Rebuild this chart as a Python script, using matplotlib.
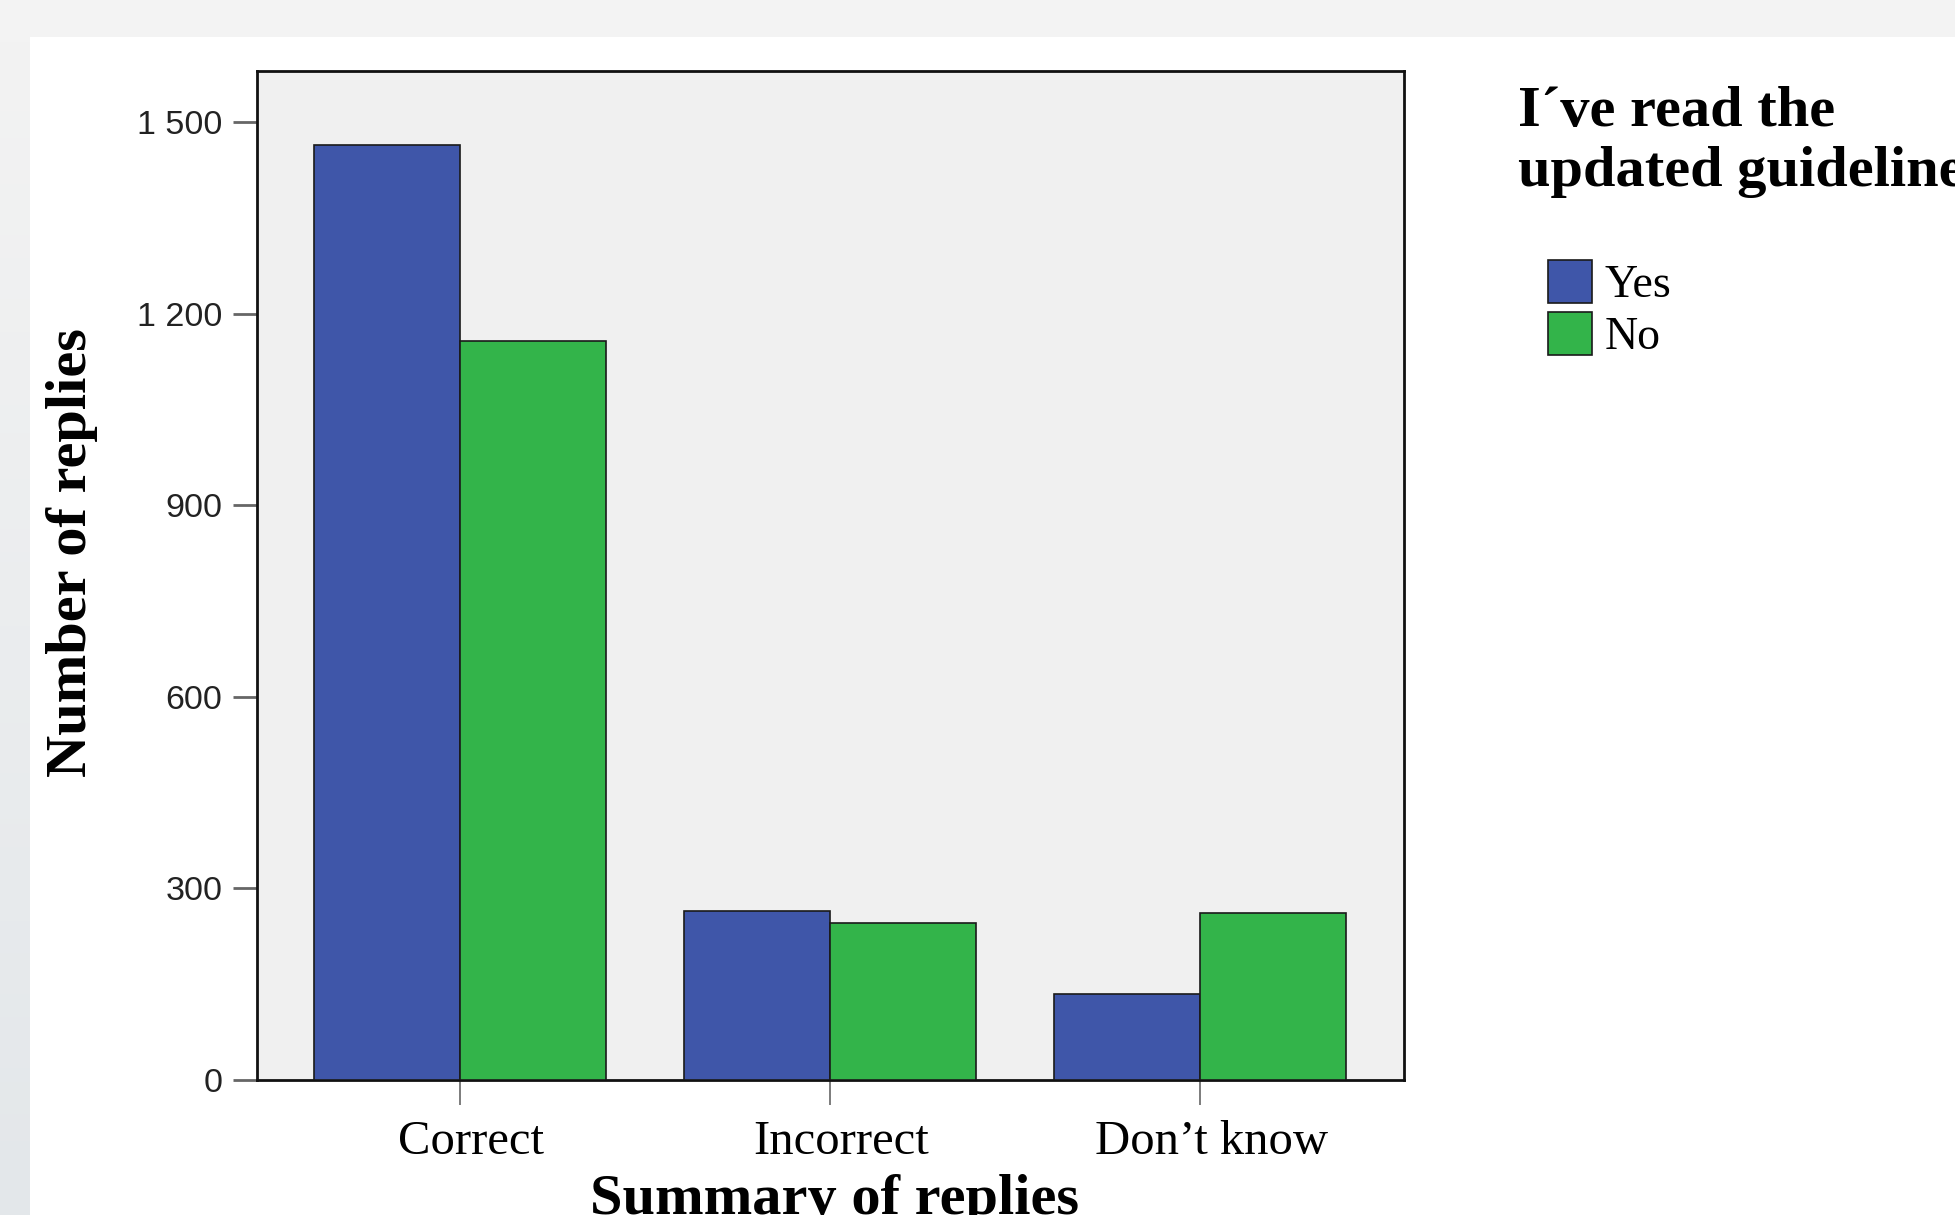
import numpy as np
import matplotlib
matplotlib.use("Agg")
import matplotlib.pyplot as plt
from matplotlib.patches import Rectangle
from matplotlib.colors import LinearSegmentedColormap

# ---- data ----
categories = ["Correct", "Incorrect", "Don\u2019t know"]
series_names = ["Yes", "No"]
yes_values = [1464, 265, 134]
no_values = [1157, 246, 261]
ytick_values = [0, 300, 600, 900, 1200, 1500]
ytick_labels = ["0", "300", "600", "900", "1\u00a0200", "1\u00a0500"]
legend_title = "I\u00b4ve read the\nupdated guidelines"
xlabel = "Summary of replies"
ylabel = "Number of replies"

W, H = 1955, 1215
fig = plt.figure(figsize=(W / 100, H / 100), dpi=100, facecolor="#f3f3f3")

# background panels
fig.add_artist(Rectangle((30 / W, 0), 1 - 30 / W, 1 - 37 / H, transform=fig.transFigure,
                         facecolor="white", edgecolor="none", zorder=-10))
gax = fig.add_axes([0, 0, 30 / W, 1 - 37 / H], zorder=-9)
grad = np.linspace(0, 1, 256).reshape(-1, 1)
cmap = LinearSegmentedColormap.from_list("g", ["#e3e7ea", "#f3f3f3"])
gax.imshow(grad, aspect="auto", cmap=cmap, origin="lower", extent=[0, 1, 0, 1])
gax.axis("off")

ax = fig.add_axes([257 / W, 135 / H, (1404 - 257) / W, (1080 - 71) / H])
ax.set_facecolor("#f0f0f0")

x = np.arange(len(categories))
w = 0.395
b1 = ax.bar(x - w / 2, yes_values, w, color="#3f56a9", edgecolor="#1a1a1a", linewidth=1.2,
            label=series_names[0], zorder=3)
b2 = ax.bar(x + w / 2, no_values, w, color="#33b44a", edgecolor="#1a1a1a", linewidth=1.2,
            label=series_names[1], zorder=3)

ax.set_xlim(-0.549, 2.551)
ax.set_ylim(0, 1580)

ax.set_yticks(ytick_values)
ax.set_yticklabels(ytick_labels, fontfamily="Liberation Sans", fontsize=24.5, color="#222222")

# major ticks mark the categories; labels sit slightly right on minor ticks
ax.set_xticks(x)
ax.set_xticklabels([])
ax.set_xticks(x + 0.03, minor=True)
ax.set_xticklabels(categories, minor=True, fontfamily="Liberation Serif", fontsize=35,
                   color="black")
ax.tick_params(axis="x", which="minor", length=18, width=0, pad=11)

ax.tick_params(axis="y", direction="out", length=17, width=2, color="#666666", pad=8)
ax.tick_params(axis="x", which="major", direction="out", length=18, width=1.2,
               color="#666666", pad=11)

for s in ax.spines.values():
    s.set_linewidth(2)
    s.set_color("#111111")

# axis titles
fig.text(835 / W, 1 / H, xlabel, ha="center", va="baseline", fontfamily="Liberation Serif",
         fontsize=42, fontweight="bold")
fig.text(72 / W, 1 - 553 / H, ylabel, ha="center", va="center", rotation=90,
         fontfamily="Liberation Serif", fontsize=42, fontweight="bold")

# legend
fig.text(1518 / W, 1 - 86 / H, legend_title, ha="left", va="top", fontfamily="Liberation Serif",
         fontsize=42, fontweight="bold", linespacing=1.2)
ax.legend(handles=[b1, b2], labels=series_names, loc="upper left",
          bbox_to_anchor=(1548 / W, 1 - 260 / H), bbox_transform=fig.transFigure,
          frameon=False, borderpad=0, borderaxespad=0, handlelength=0.96, handleheight=1.05,
          handletextpad=0.28, labelspacing=0.12,
          prop={"family": "Liberation Serif", "size": 33})

fig.savefig("out.png", dpi=100, facecolor=fig.get_facecolor())
